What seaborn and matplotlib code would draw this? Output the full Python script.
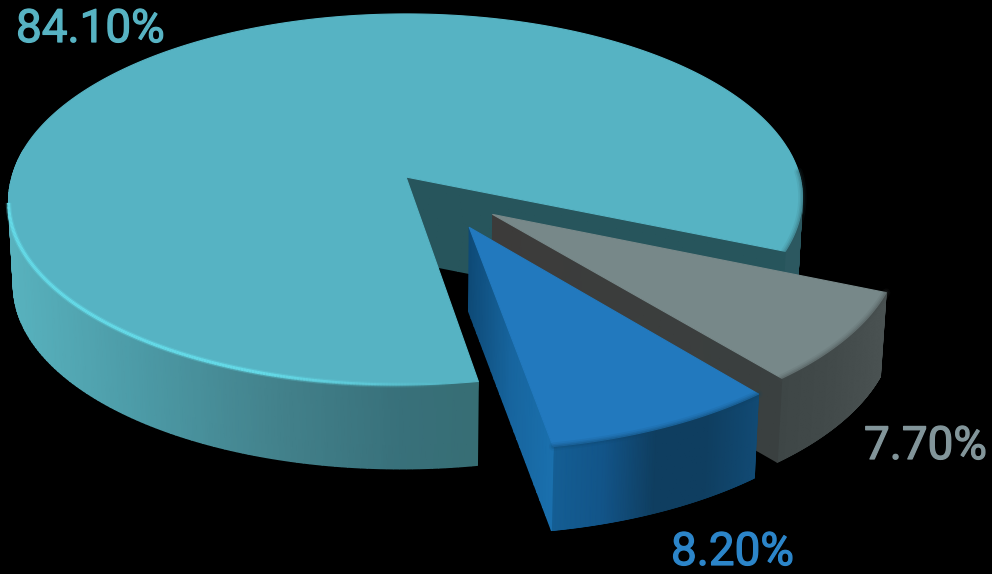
import numpy as np
import pandas as pd
import seaborn as sns
import matplotlib.pyplot as plt
import matplotlib.patheffects as pe
from matplotlib.collections import LineCollection
from matplotlib.patches import Polygon

# Share of each slice, in percent
shares = [84.10, 7.70, 8.20]
segment_ids = ["main", "gray", "blue"]

sns.set_theme(style="dark", rc={"figure.facecolor": "black", "axes.facecolor": "black"})
plt.rcParams["font.family"] = ["Roboto", "DejaVu Sans"]

# Palette per slice: top face, then wall shades from the lit end to the dark end
top_colors = {"main": "#56B3C3", "gray": "#778889", "blue": "#2279BE"}
label_colors = {"main": "#57B3C3", "gray": "#82959A", "blue": "#2C85C9"}
rim_soft = {"main": "#2C5860", "gray": "#454D4D", "blue": "#0F4266"}
wall_cmaps = {
    "main": sns.blend_palette(["#58B2BE", "#4C9AA6", "#43828C", "#38707A", "#366C70", "#2E5C64", "#2C5860"], as_cmap=True),
    "gray": sns.blend_palette(["#3E4646", "#424A4A", "#4A5252"], as_cmap=True),
    "blue": sns.blend_palette(["#145E94", "#125488", "#0F3E60", "#0F3E60", "#114A74"], as_cmap=True),
}
cut_cmaps = {
    "main": sns.blend_palette(["#27555C", "#27555C"], as_cmap=True),
    "gray": sns.blend_palette(["#3C3B3A", "#3A4040"], as_cmap=True),
    "blue": sns.blend_palette(["#0E4A77", "#17659E", "#1A70AE"], as_cmap=True),
}

# Camera: disc coordinates (u, v) to canvas pixels with a mild perspective
CX, CY = 406.0, 177.0
SCALE_U, SCALE_V = 394.0, 182.8
PERSPECTIVE = -0.121
SHEAR = 4.5
DEPTH = 84.0
BOTTOM_SHRINK = 0.988
START_DEG = 22.8

# Radial pull of the exploded slices and the skew of that pull, in disc units and degrees
explode = {"main": 0.0, "gray": 0.295, "blue": 0.31}
explode_skew = {"main": 0.0, "gray": 6.0, "blue": -6.0}
label_anchor = {"main": (16, 42), "gray": (864, 459), "blue": (671, 565)}


def project(u, v, lift=0.0):
    den = 1 + PERSPECTIVE * v
    x = CX + (SCALE_U * u - SHEAR * np.clip(v, 0, None)) / den
    y = CY + SCALE_V * v / den
    if lift:
        x = CX + (x - CX) * BOTTOM_SHRINK
        y = y + lift
    return np.column_stack([x, y])


def slice_geometry(seg, t0, t1):
    mid = np.radians((t0 + t1) / 2 + explode_skew[seg])
    ou, ov = explode[seg] * np.cos(mid), explode[seg] * np.sin(mid)
    angles = np.linspace(t0, t1, 360)
    t = np.radians(angles)
    u, v = ou + np.cos(t), ov + np.sin(t)
    top = project(u, v)
    low = project(u, v, DEPTH)
    apex = project(np.array([ou]), np.array([ov]))
    apex_low = project(np.array([ou]), np.array([ov]), DEPTH)
    return angles, top, low, apex, apex_low


def smooth_band(ax, upper, lower, shade, cmap, zorder):
    """Gouraud-shaded band between two polylines, coloured along their length."""
    X = np.vstack([upper[:, 0], lower[:, 0]])
    Y = np.vstack([upper[:, 1], lower[:, 1]])
    C = np.vstack([shade, shade])
    ax.pcolormesh(X, Y, C, shading="gouraud", cmap=cmap, vmin=0, vmax=1, zorder=zorder)


def line_between(a, b, n=30):
    f = np.linspace(0, 1, n)[:, None]
    return a + (b - a) * f


def draw_slice(ax, seg, t0, t1, base_z):
    angles, top, low, apex, apex_low = slice_geometry(seg, t0, t1)

    # Outer wall, shaded by horizontal position across the slice
    xs = top[:, 0]
    if seg == "main":
        shade = np.clip((xs - 8) / 794, 0, 1)
        # Only the front of the rim shows; the back stays behind the top face
        idx = np.where(top[:, 1] > CY - 30)[0]
        for run in np.split(idx, np.where(np.diff(idx) > 1)[0] + 1):
            smooth_band(ax, top[run], low[run], shade[run], wall_cmaps[seg], base_z)
    else:
        shade = np.clip((xs - xs.min()) / max(np.ptp(xs), 1), 0, 1)
        smooth_band(ax, top, low, shade, wall_cmaps[seg], base_z)

    # Cut face that looks toward the viewer
    tip = top[0] if seg == "main" else top[-1]
    tip_low = low[0] if seg == "main" else low[-1]
    edge_up = line_between(apex[0], tip)
    edge_dn = line_between(apex_low[0], tip_low)
    smooth_band(ax, edge_up, edge_dn, np.linspace(0, 1, len(edge_up)), cut_cmaps[seg], base_z + 1)

    # Top face
    outline = np.vstack([apex, top])
    ax.add_patch(Polygon(outline, closed=True, facecolor=top_colors[seg], edgecolor=top_colors[seg],
                         linewidth=0.8, joinstyle="round", zorder=base_z + 2))

    # Soft bevel where the top face rolls over into the wall
    visible = (angles > -2) if seg == "main" else np.ones(len(top), bool)
    for width, alpha in ((6.0, 0.10), (3.5, 0.16), (1.5, 0.22)):
        ax.plot(top[visible, 0], top[visible, 1], color=rim_soft[seg], alpha=alpha, lw=width,
                solid_capstyle="round", zorder=base_z + 3)


frame = pd.DataFrame({"segment": segment_ids, "share": shares})
frame["label"] = frame["share"].map(lambda s: f"{s:.2f}%")
frame["sweep"] = frame["share"] / frame["share"].sum() * 360

fig, ax = plt.subplots(figsize=(9.92, 5.74), dpi=100)
ax.set_position([0, 0, 1, 1])
ax.set_xlim(0, 992)
ax.set_ylim(574, 0)
ax.set_axis_off()
sns.despine(ax=ax, left=True, bottom=True)

# The small slices sit side by side from the start angle; the main one takes the rest
sweep = dict(zip(frame["segment"], frame["sweep"]))
t_gray_end = START_DEG + sweep["gray"]
t_blue_end = t_gray_end + sweep["blue"]
draw_slice(ax, "main", START_DEG, START_DEG - sweep["main"], 10)
draw_slice(ax, "gray", START_DEG, t_gray_end, 20)
draw_slice(ax, "blue", t_gray_end, t_blue_end, 30)

# Bright highlight along the front-left rim of the main slice, fading toward the cut
t_rim = np.radians(np.linspace(START_DEG - sweep["main"], 172 - 360, 240))
rim = project(np.cos(t_rim), np.sin(t_rim))
segs = np.stack([rim[:-1], rim[1:]], axis=1)
fade = np.clip(1 - (rim[:-1, 0] - 260) / 200, 0, 1)
for width, strength in ((4.0, 0.3), (2.2, 0.9)):
    rgba = np.tile(np.array([0.40, 0.87, 0.92, 1.0]), (len(segs), 1))
    rgba[:, 3] = fade * strength
    ax.add_collection(LineCollection(segs, colors=rgba, linewidths=width, zorder=14))

for seg, text in zip(frame["segment"], frame["label"]):
    x, y = label_anchor[seg]
    t = ax.text(x, y, text, color=label_colors[seg], fontsize=33, ha="left", va="baseline", zorder=40)
    t.set_path_effects([pe.withStroke(linewidth=0.9, foreground=label_colors[seg])])

fig.savefig("out.png", dpi=100, facecolor="black")
